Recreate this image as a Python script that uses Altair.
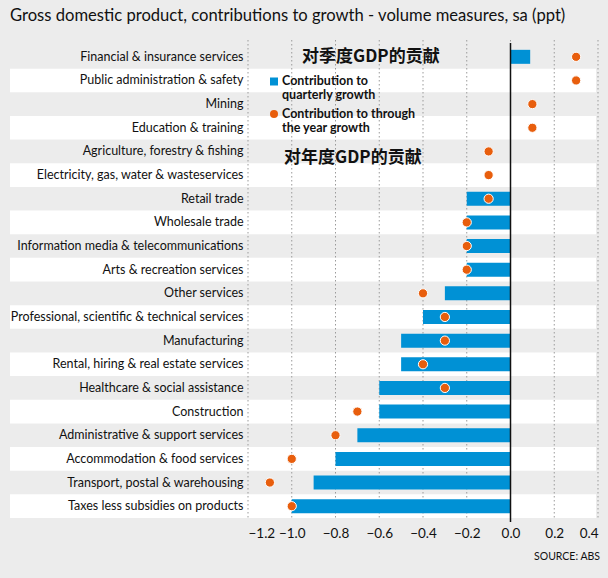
import altair as alt
import pandas as pd

categories = [
    "Financial & insurance services",
    "Public administration & safety",
    "Mining",
    "Education & training",
    "Agriculture, forestry & fishing",
    "Electricity, gas, water & wasteservices",
    "Retail trade",
    "Wholesale trade",
    "Information media & telecommunications",
    "Arts & recreation services",
    "Other services",
    "Professional, scientific & technical services",
    "Manufacturing",
    "Rental, hiring & real estate services",
    "Healthcare & social assistance",
    "Construction",
    "Administrative & support services",
    "Accommodation & food services",
    "Transport, postal & warehousing",
    "Taxes less subsidies on products",
]
quarterly = [0.09, 0.0, 0.0, 0.0, 0.0, 0.0, -0.2, -0.2, -0.2, -0.2,
             -0.3, -0.4, -0.5, -0.5, -0.6, -0.6, -0.7, -0.8, -0.9, -1.0]
through_year = [0.3, 0.3, 0.1, 0.1, -0.1, -0.1, -0.1, -0.2, -0.2, -0.2,
                -0.4, -0.3, -0.3, -0.4, -0.3, -0.7, -0.8, -1.0, -1.1, -1.0]
tick_values = [-1.2, -1.0, -0.8, -0.6, -0.4, -0.2, 0.0, 0.2, 0.4]

W, H = 350, 473
BG = "#ececec"
FONT = "Lato"

df = pd.DataFrame({
    "cat": categories,
    "q": quarterly,
    "y": through_year,
    "idx": list(range(len(categories))),
})
grid_df = pd.DataFrame({"v": tick_values})

yenc = alt.Y("cat:N", sort=categories,
             scale=alt.Scale(paddingInner=0, paddingOuter=0),
             axis=alt.Axis(title=None, domain=False, ticks=False, grid=False,
                           labelFont=FONT, labelFontSize=12.5, labelColor="#111",
                           labelPadding=5, labelLimit=300))
xscale = alt.Scale(domain=[-1.2, 0.4], nice=False, zero=False)

bands = alt.Chart(df).transform_filter("datum.idx % 2 == 1").mark_rect(
    color="white").encode(
    y=yenc, x=alt.value(-238), x2=alt.value(W - 2))

grid = alt.Chart(grid_df).mark_rule(
    color="#9a9a9a", strokeDash=[1.5, 2.5], strokeWidth=1).encode(
    x=alt.X("v:Q", scale=xscale), y=alt.value(-5), y2=alt.value(H))

bars = alt.Chart(df).mark_bar(color="#0091d5", size=14).encode(
    y=yenc,
    x=alt.X("q:Q", scale=xscale,
            axis=alt.Axis(title=None, values=tick_values, format=".1f",
                          grid=False, domain=False, ticks=False,
                          labelFont=FONT, labelFontSize=13.5, labelColor="#111",
                          labelPadding=8)),
    x2=alt.datum(0),
)

zero = alt.Chart(grid_df).transform_filter("datum.v == 0").mark_rule(
    color="#111", strokeWidth=1.5).encode(
    x=alt.X("v:Q", scale=xscale), y=alt.value(-2), y2=alt.value(H + 4))

dots = alt.Chart(df).mark_point(
    filled=True, shape="circle", size=85, color="#e85e0d",
    stroke="white", strokeWidth=1, opacity=1).encode(
    y=yenc, x=alt.X("y:Q", scale=xscale))


def txt(s, x, y, size=12.5, weight="bold", align="left", font=FONT, color="#111"):
    return alt.Chart(pd.DataFrame({"t": [s]})).mark_text(
        align=align, baseline="middle", fontSize=size, fontWeight=weight,
        font=font, color=color).encode(
        text="t:N", x=alt.value(x), y=alt.value(y))


title = txt("Gross domestic product, contributions to growth - volume measures, sa (ppt)",
            -238, -29, size=16.6, weight="normal")
leg_sq = alt.Chart(grid_df.head(1)).mark_point(
    shape="square", filled=True, size=64, color="#0091d5", opacity=1).encode(
    x=alt.value(26), y=alt.value(36.5))
leg_dot = alt.Chart(grid_df.head(1)).mark_point(
    shape="circle", filled=True, size=64, color="#e85e0d", opacity=1).encode(
    x=alt.value(26), y=alt.value(69))
l1 = txt("Contribution to", 34, 36)
l2 = txt("quarterly growth", 34, 50)
l3 = txt("Contribution to through", 34, 69)
l4 = txt("the year growth", 34, 83)
cn1 = txt("对季度GDP的贡献", 54, 12, size=17, font="Noto Sans CJK SC")
cn2 = txt("对年度GDP的贡献", 36, 113, size=17, font="Noto Sans CJK SC")
src = txt("SOURCE: ABS", 352, 512, size=10.5, weight="normal", align="right")

chart = alt.layer(
    bands, grid, bars, zero, dots,
    title, leg_sq, leg_dot, l1, l2, l3, l4, cn1, cn2, src,
).properties(
    width=W, height=H,
    autosize=alt.AutoSizeParams(type="none"),
    padding={"left": 248, "top": 45, "right": 10, "bottom": 60},
    background=BG,
).configure_view(stroke=None)

chart.save("out.html", embed_options={"renderer": "svg", "actions": False})
